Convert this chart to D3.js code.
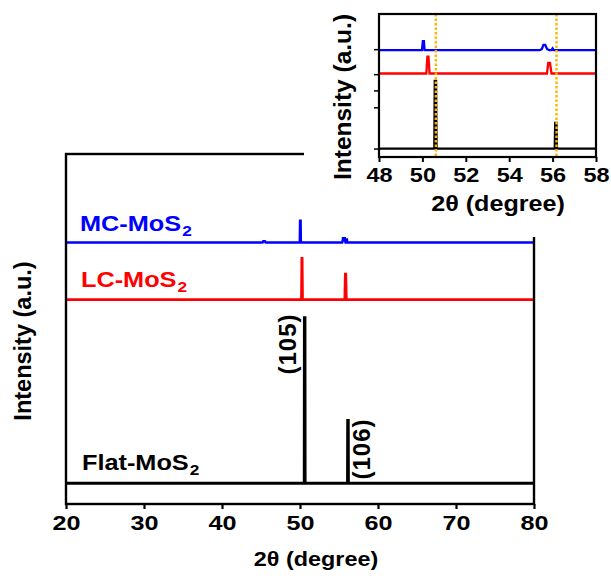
<!DOCTYPE html>
<html><head><meta charset="utf-8">
<script src="https://cdn.jsdelivr.net/npm/d3@7"></script>
<style>
body{margin:0;background:#fff;}
svg{display:block;}
text{font-family:"Liberation Sans",Arial,sans-serif;font-weight:bold;}
</style></head>
<body>
<svg id="c" width="611" height="576"></svg>
<script>
// ---------- data ----------
const seriesNames = ["Flat-MoS", "LC-MoS", "MC-MoS"];
const seriesColors = ["#000000", "#FF0000", "#0000FF"];
const seriesOffsets = [0, 111, 145.5];
// [2theta, intensity] points
const flatPoints = [[20,0],[50.55,0],[50.57,100],[50.63,100],[50.65,0],[56.1,0],[56.12,38],[56.18,38],[56.2,0],[80,0]];
const lcPoints = [[20,0],[50.18,0],[50.23,25],[50.28,25],[50.33,0],[55.74,0],[55.8,15.5],[55.88,15.5],[55.95,0],[80,0]];
const mcPoints = [[20,0],[45.2,0],[45.3,0.8],[45.5,0.8],[45.6,0],[49.98,0],[50.02,13.2],[50.07,13.2],[50.1,0],[55.4,0],[55.5,1.5],[55.58,7.8],[55.66,7.8],[55.75,1.5],[55.85,0],[55.95,0],[56.0,2.5],[56.05,0],[80,0]];
const seriesPoints = [flatPoints, lcPoints, mcPoints];
const mainXTicks = [20,30,40,50,60,70,80];
const insetXTicks = [48,50,52,54,56,58];
const insetYTicks = [0,61,86,110,147];
const peakLabels = ["(105)", "(106)"];
const refLines = [50.62, 56.18];
const yDomain = [-12.5, 199];

const svg = d3.select("#c");
const SX = 1.17; // horizontal stretch of the original text

// ---------- main plot ----------
const x = d3.scaleLinear().domain([20,80]).range([66,534]);
const y = d3.scaleLinear().domain(yDomain).range([504,154]);

const line = (xs, ys, off) => d3.line().x(d=>xs(d[0])).y(d=>ys(d[1]+off));

const main = svg.append("g");
seriesPoints.forEach((pts,i)=>{
  main.append("path").datum(pts)
    .attr("d", line(x,y,seriesOffsets[i]))
    .attr("fill","none").attr("stroke",seriesColors[i])
    .attr("stroke-width", i===0?3:2.6).attr("stroke-linejoin","miter");
});
// frame
main.append("rect").attr("x",x(20)).attr("y",y(yDomain[1]))
  .attr("width",x(80)-x(20)).attr("height",y(yDomain[0])-y(yDomain[1]))
  .attr("fill","none").attr("stroke","#000").attr("stroke-width",2.4);
const ax = main.append("g").attr("transform",`translate(0,${y(yDomain[0])})`)
  .call(d3.axisBottom(x).tickValues(mainXTicks).tickSize(5).tickSizeOuter(0).tickFormat(d3.format("d")));
ax.select(".domain").remove();
ax.selectAll(".tick line").attr("stroke-width",2.2);
ax.selectAll(".tick text").attr("y",26.5).attr("dy",0).attr("font-size",21)
  .attr("font-family","Liberation Sans, Arial, sans-serif").attr("font-weight","bold")
  .attr("transform",`scale(1.2,1)`).attr("fill","#000");

function stext(g, x0, y0, str, size, color, anchor){
  return g.append("text").attr("transform",`translate(${x0},${y0}) scale(${SX},1)`)
    .attr("font-size",size).attr("fill",color||"#000").attr("text-anchor",anchor||"start").text(str);
}
function sublabel(g, x0, y0, str, color){
  const t = g.append("text").attr("transform",`translate(${x0},${y0}) scale(1.15,1)`)
    .attr("font-size",22).attr("fill",color);
  t.append("tspan").text(str);
  t.append("tspan").attr("font-size",15).attr("dy",5).attr("dx",1).text("2");
}
sublabel(main, 80, 231, seriesNames[2], seriesColors[2]);
sublabel(main, 81, 287, seriesNames[1], seriesColors[1]);
sublabel(main, 82, 469.5, seriesNames[0], seriesColors[0]);

// peak labels
main.append("text").attr("transform","translate(296,344) rotate(-90)")
  .attr("font-size",24).attr("letter-spacing",1).attr("text-anchor","middle").text(peakLabels[0]);
main.append("text").attr("transform","translate(370,449) rotate(-90)")
  .attr("font-size",24).attr("letter-spacing",1).attr("text-anchor","middle").text(peakLabels[1]);

// axis titles
stext(main, 316, 566, "2θ (degree)", 20, "#000", "middle");
main.append("text").attr("transform","translate(31,341) rotate(-90)")
  .attr("font-size",23.5).attr("text-anchor","middle").text("Intensity (a.u.)");

// ---------- inset ----------
svg.append("rect").attr("x",304).attr("y",0).attr("width",307).attr("height",237).attr("fill","#fff");
const ins = svg.append("g");
const xi = d3.scaleLinear().domain([48,58]).range([379,596]);
const yi = d3.scaleLinear().domain(yDomain).range([157,14]);
svg.append("defs").append("clipPath").attr("id","ic").append("rect")
  .attr("x",379).attr("y",14).attr("width",217).attr("height",143);
const il = ins.append("g").attr("clip-path","url(#ic)");
seriesPoints.forEach((pts,i)=>{
  il.append("path").datum(pts)
    .attr("d", line(xi,yi,seriesOffsets[i]))
    .attr("fill","none").attr("stroke",seriesColors[i])
    .attr("stroke-width", 2.3);
});
refLines.forEach(v=>{
  il.append("line").attr("x1",xi(v)).attr("x2",xi(v)).attr("y1",yi(yDomain[1])).attr("y2",yi(yDomain[0]))
    .attr("stroke","#FFB400").attr("stroke-width",2.4).attr("stroke-dasharray","2.5,2");
});
ins.append("rect").attr("x",379).attr("y",14).attr("width",217).attr("height",143)
  .attr("fill","none").attr("stroke","#000").attr("stroke-width",2.2);
const iax = ins.append("g").attr("transform","translate(0,157)")
  .call(d3.axisBottom(xi).tickValues(insetXTicks).tickSize(5).tickSizeOuter(0).tickFormat(d3.format("d")));
iax.select(".domain").remove();
iax.selectAll(".tick line").attr("stroke-width",2);
iax.selectAll(".tick text").attr("y",25).attr("dy",0).attr("font-size",21)
  .attr("font-family","Liberation Sans, Arial, sans-serif").attr("font-weight","bold")
  .attr("transform","scale(1.12,1)").attr("fill","#000");
const iay = ins.append("g").attr("transform","translate(379,0)")
  .call(d3.axisLeft(yi).tickValues(insetYTicks).tickSize(5).tickSizeOuter(0).tickFormat(""));
iay.select(".domain").remove();
iay.selectAll(".tick line").attr("stroke-width",1.5);
stext(ins, 498, 211, "2θ (degree)", 21.5, "#000", "middle");
ins.append("text").attr("transform","translate(351,97) rotate(-90)")
  .attr("font-size",24.5).attr("text-anchor","middle").text("Intensity (a.u.)");
</script>
</body></html>
